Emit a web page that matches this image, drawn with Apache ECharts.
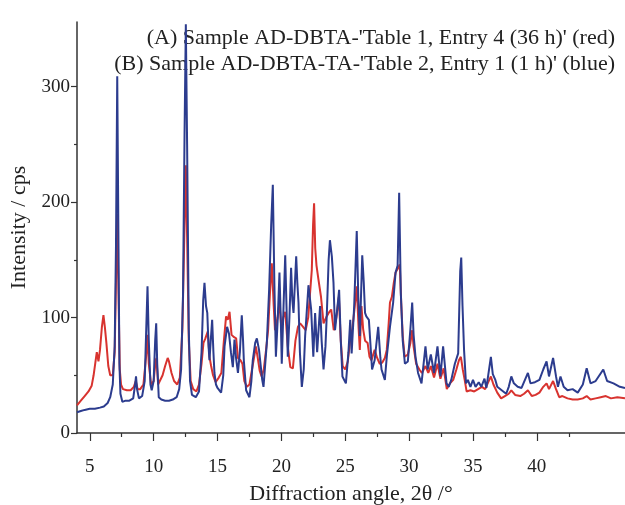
<!DOCTYPE html>
<html>
<head>
<meta charset="utf-8">
<script src="https://cdn.jsdelivr.net/npm/echarts@6/dist/echarts.min.js"></script>
<style>html,body{margin:0;padding:0;background:#fff}#c{width:625px;height:505px}</style>
</head>
<body>
<div id="c"></div>
<script>
// ---- data ----
var xTicks = [5, 10, 15, 20, 25, 30, 35, 40];
var xMinorTicks = [7.5, 12.5, 17.5, 22.5, 27.5, 32.5, 37.5, 42.5];
var yTicks = [0, 100, 200, 300];
var yMinorTicks = [50, 150, 250];

var redAngle = [4.0,4.3,4.6,4.9,5.15,5.3,5.45,5.55,5.68,5.8,5.95,6.07,6.18,6.3,6.45,6.6,6.8,6.95,7.05,7.15,7.25,7.35,7.45,7.6,7.9,8.2,8.45,8.6,8.75,8.95,9.2,9.4,9.52,9.62,9.8,10.0,10.15,10.22,10.35,10.5,10.7,10.9,11.1,11.2,11.4,11.6,11.85,12.05,12.25,12.42,12.52,12.62,12.75,12.9,13.1,13.35,13.55,13.75,13.9,14.05,14.24,14.37,14.5,14.65,14.85,15.1,15.3,15.5,15.67,15.8,15.94,16.1,16.3,16.46,16.6,16.8,16.95,17.1,17.3,17.5,17.7,17.9,18.0,18.15,18.3,18.45,18.62,18.8,18.96,19.1,19.25,19.4,19.5,19.7,19.85,20.0,20.15,20.3,20.5,20.7,20.9,21.1,21.3,21.47,21.7,21.9,22.1,22.38,22.48,22.56,22.65,22.75,22.9,23.1,23.3,23.5,23.7,23.9,24.1,24.3,24.5,24.65,24.8,25.0,25.2,25.39,25.55,25.7,25.9,26.05,26.14,26.27,26.4,26.55,26.75,26.9,27.05,27.3,27.5,27.7,27.9,28.1,28.25,28.4,28.5,28.65,28.8,28.94,29.1,29.27,29.38,29.5,29.65,29.9,30.1,30.24,30.35,30.55,30.8,31.0,31.28,31.5,31.7,31.95,32.22,32.45,32.7,32.95,33.2,33.45,33.7,33.9,34.05,34.2,34.35,34.5,34.8,35.1,35.4,35.7,35.95,36.4,36.6,36.9,37.2,37.5,37.8,38.0,38.3,38.7,39.0,39.3,39.6,39.9,40.2,40.5,40.76,40.95,41.27,41.5,41.75,42.0,42.4,42.8,43.2,43.6,43.9,44.2,44.6,45.0,45.4,45.8,46.3,46.9];
var redIntensity = [24,28,32,36,41,50,62,70,62,72,92,102,92,78,58,50,50,70,130,190,120,55,42,38,37,37,40,45,38,38,42,65,85,60,42,45,62,65,42,42,50,58,65,62,52,45,42,48,90,180,232,170,80,45,38,36,42,60,78,82,88,66,58,50,44,48,52,80,101,98,105,85,83,82,65,63,60,45,40,42,55,68,75,65,54,49,55,72,89,120,147,110,89,100,113,90,100,105,75,57,56,80,92,95,92,89,100,141,180,199,160,145,133,118,95,100,104,107,89,100,118,80,58,55,62,81,90,105,127,90,72,110,90,80,78,66,63,72,65,60,61,65,72,95,113,118,130,139,142,146,113,84,66,68,78,89,75,60,55,52,58,52,58,48,60,47,56,38,43,46,55,63,66,55,46,36,37,36,38,40,38,49,42,35,30,32,34,37,33,32,34,37,32,33,35,40,43,38,45,38,31,32,30,29,29,30,32,29,30,31,32,30,31,30];

var blueAngle = [4.0,4.3,4.6,5.0,5.4,5.8,6.1,6.4,6.6,6.8,6.95,7.05,7.15,7.25,7.32,7.4,7.55,7.8,8.1,8.4,8.55,8.62,8.7,8.85,9.1,9.3,9.42,9.52,9.62,9.75,9.85,10.0,10.12,10.2,10.28,10.4,10.6,10.9,11.2,11.5,11.8,12.0,12.15,12.3,12.42,12.52,12.62,12.75,12.85,13.0,13.3,13.55,13.75,13.88,13.98,14.1,14.2,14.3,14.37,14.47,14.58,14.68,14.76,14.88,15.0,15.28,15.45,15.55,15.75,15.9,16.05,16.2,16.33,16.45,16.6,16.75,16.9,17.0,17.06,17.24,17.5,17.65,17.76,17.95,18.08,18.25,18.5,18.6,18.86,19.04,19.2,19.33,19.45,19.57,19.72,19.85,19.95,20.03,20.17,20.3,20.4,20.5,20.63,20.76,20.86,20.95,21.16,21.25,21.34,21.45,21.6,21.75,21.86,22.12,22.33,22.5,22.64,22.8,23.03,23.15,23.3,23.45,23.56,23.7,23.8,23.95,24.08,24.2,24.35,24.52,24.65,24.78,25.05,25.25,25.39,25.5,25.7,25.9,26.02,26.14,26.33,26.45,26.55,26.65,26.85,27.1,27.3,27.58,27.75,27.84,28.1,28.25,28.5,28.75,28.94,29.1,29.22,29.35,29.5,29.67,29.9,30.1,30.24,30.35,30.5,30.7,30.97,31.28,31.45,31.7,31.95,32.22,32.45,32.66,32.93,33.1,33.3,33.58,33.84,34.0,34.08,34.18,34.3,34.45,34.6,34.8,35.0,35.2,35.45,35.65,35.9,36.05,36.4,36.55,36.75,36.9,37.37,37.6,37.8,38.0,38.2,38.5,38.8,39.3,39.5,39.85,40.2,40.5,40.76,40.95,41.27,41.5,41.65,41.85,42.1,42.4,42.8,43.2,43.6,43.9,44.2,44.6,45.2,45.5,46.0,46.5,46.9];
var blueIntensity = [18,19,20,21,21,22,23,26,31,42,75,160,309,160,60,34,27,28,28,30,42,49,38,30,32,45,90,127,80,42,37,45,80,95,60,31,29,28,28,29,31,38,55,120,260,354,250,90,45,33,31,36,70,115,130,110,104,75,63,80,98,70,52,42,39,35,50,75,92,86,70,57,81,65,52,70,102,80,63,37,31,45,63,78,82,72,46,40,78,124,180,215,130,66,100,139,100,60,110,154,110,66,100,143,115,104,153,130,113,70,40,55,84,128,107,66,104,70,110,80,55,75,104,150,167,153,130,89,105,124,80,49,43,70,98,69,110,175,118,84,154,130,104,101,98,55,63,92,65,55,46,66,92,113,139,145,208,121,80,60,62,90,113,85,66,52,43,75,55,68,52,75,49,75,43,40,46,60,69,140,152,110,72,43,46,40,46,40,44,40,47,39,66,51,46,40,36,34,40,49,43,40,39,52,43,44,46,55,62,49,65,49,40,49,40,37,38,35,42,56,43,45,55,45,43,40,39];

function zip(a, b) { return a.map(function (v, i) { return [v, b[i]]; }); }

var serif = 'Liberation Serif';
var axisColor = '#333';
var textColor = '#222';
var chart = echarts.init(document.getElementById('c'), null, { renderer: 'canvas' });
chart.setOption({
  animation: false,
  backgroundColor: '#fff',
  grid: { left: 77, right: 0, top: 22, bottom: 72, outerBoundsMode: 'none', containLabel: false },
  graphic: [
    { type: 'text', right: 10, top: 27, style: { text: "(A) Sample AD-DBTA-'Table 1, Entry 4 (36 h)' (red)", font: '22px ' + serif, fill: textColor, textAlign: 'right' } },
    { type: 'text', right: 10, top: 53, style: { text: "(B) Sample AD-DBTA-TA-'Table 2, Entry 1 (1 h)' (blue)", font: '22px ' + serif, fill: textColor, textAlign: 'right' } }
  ],
  xAxis: [{
    type: 'value', min: 4, max: 46.9,
    name: 'Diffraction angle, 2\u03b8 /\u00b0', nameLocation: 'middle', nameGap: 50,
    nameTextStyle: { fontFamily: serif, fontSize: 22, color: textColor },
    axisLine: { show: true, lineStyle: { color: axisColor, width: 1.5 } },
    axisTick: { show: true, length: 8, customValues: xTicks, lineStyle: { color: axisColor, width: 1.2 } },
    axisLabel: { customValues: xTicks, fontFamily: serif, fontSize: 19, color: textColor, margin: 25 },
    splitLine: { show: false }
  }, {
    type: 'value', min: 4, max: 46.9, position: 'bottom', offset: 0,
    axisLine: { show: false },
    axisTick: { show: true, length: 4, customValues: xMinorTicks, lineStyle: { color: axisColor, width: 1.2 } },
    axisLabel: { show: false },
    splitLine: { show: false }
  }],
  yAxis: [{
    type: 'value', min: 0, max: 356,
    name: 'Intensity / cps', nameLocation: 'middle', nameGap: 40, nameRotate: 90,
    nameTextStyle: { fontFamily: serif, fontSize: 22, color: textColor },
    axisLine: { show: true, lineStyle: { color: axisColor, width: 1.5 } },
    axisTick: { show: true, length: 6, customValues: yTicks, lineStyle: { color: axisColor, width: 1.2 } },
    axisLabel: { customValues: yTicks, fontFamily: serif, fontSize: 19, color: textColor, margin: 7 },
    splitLine: { show: false }
  }, {
    type: 'value', min: 0, max: 356, position: 'left', offset: 0,
    axisLine: { show: false },
    axisTick: { show: true, length: 3, customValues: yMinorTicks, lineStyle: { color: axisColor, width: 1.2 } },
    axisLabel: { show: false },
    splitLine: { show: false }
  }],
  series: [{
    name: 'A', type: 'line', showSymbol: false, data: zip(redAngle, redIntensity),
    lineStyle: { color: '#d8332f', width: 2 }, itemStyle: { color: '#d8332f' }, z: 2
  }, {
    name: 'B', type: 'line', showSymbol: false, data: zip(blueAngle, blueIntensity),
    lineStyle: { color: '#2c3c8e', width: 2 }, itemStyle: { color: '#2c3c8e' }, z: 3
  }]
});
</script>
</body>
</html>
